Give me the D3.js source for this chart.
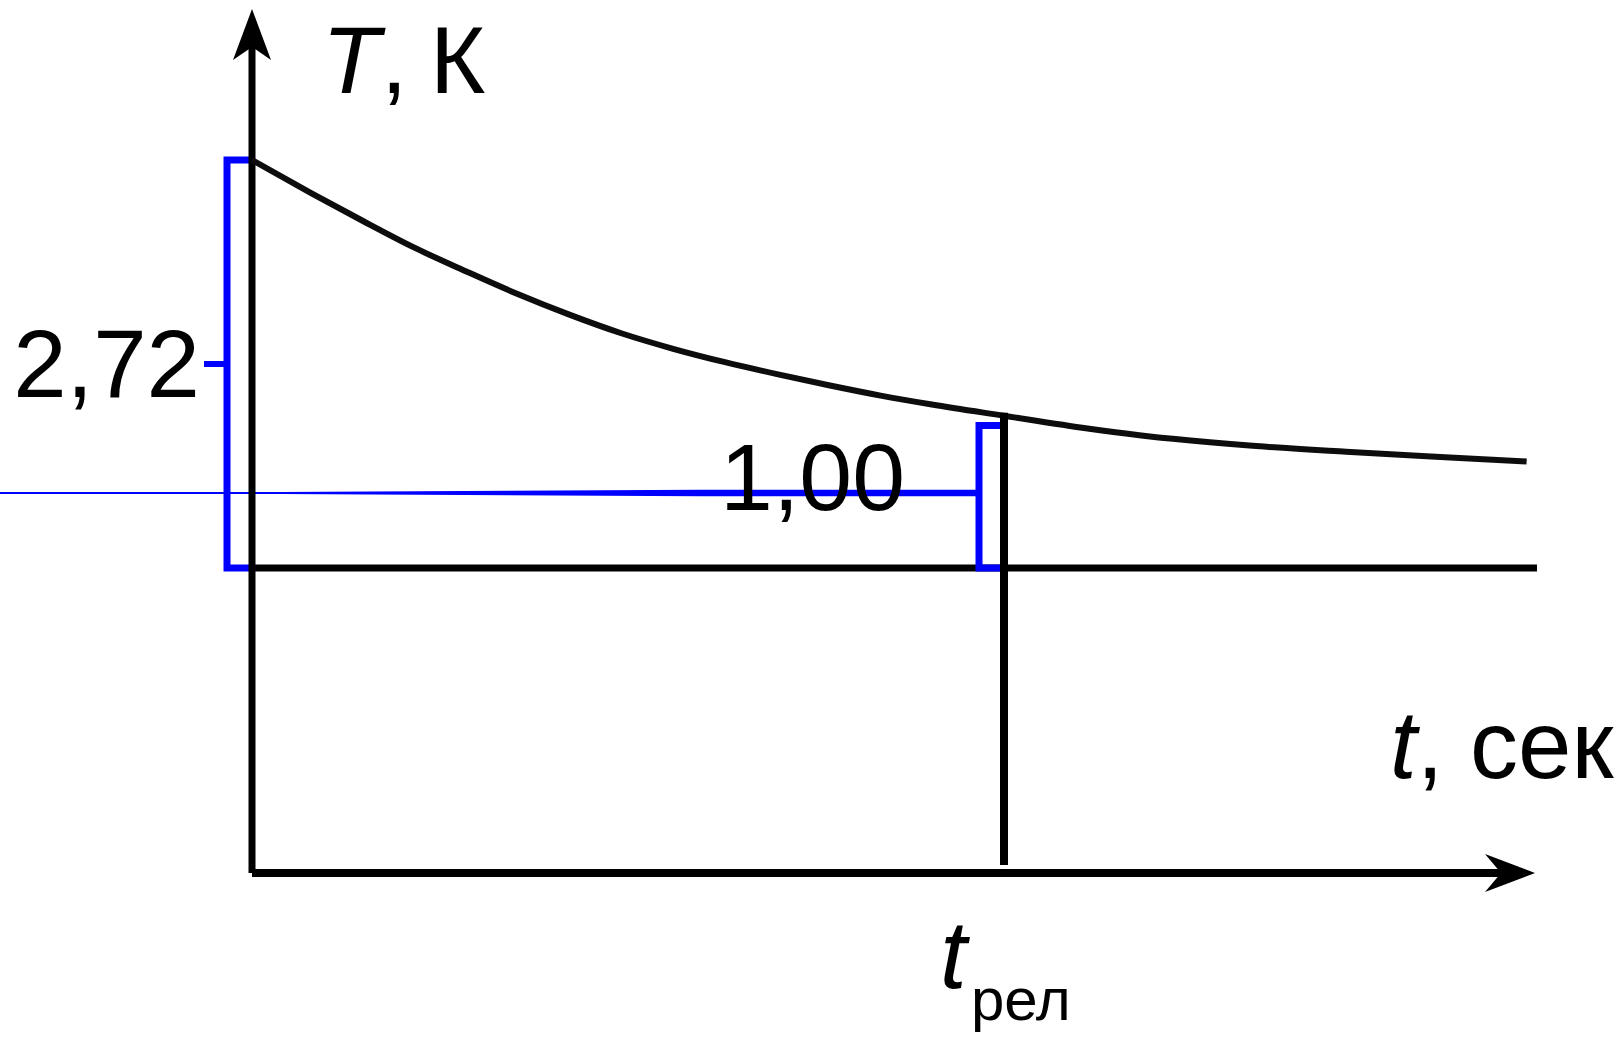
<!DOCTYPE html>
<html>
<head>
<meta charset="utf-8">
<script src="https://cdn.jsdelivr.net/npm/d3@7"></script>
<style>
  html, body { margin: 0; padding: 0; background: #fff; }
  svg { display: block; }
  text { font-family: "Liberation Sans", Arial, sans-serif; fill: #000; }
</style>
</head>
<body>
<svg id="chart" width="1624" height="1041"></svg>
<script>
// Relaxation curve: time in units of t_rel, temperature in K
const timeValues = [0, 0.078, 0.147, 0.216, 0.285, 0.354, 0.422, 0.491, 0.560, 0.629, 0.698, 0.767, 0.836, 0.904, 1.0, 1.111, 1.18, 1.318, 1.455, 1.593, 1.695];
const tempValues = [5.44, 5.003, 4.630, 4.271, 3.954, 3.650, 3.378, 3.130, 2.923, 2.744, 2.585, 2.437, 2.299, 2.18, 2.03, 1.86, 1.77, 1.639, 1.55, 1.474, 1.42];

// Marked levels and the relaxation time
const levelValues = [2.72, 1.00];
const levelLabels = ["2,72", "1,00"];
const relaxTime = 1.0;
const bracketTops = [5.44, 1.9];

const svg = d3.select("#chart");

const x = d3.scaleLinear().domain([0, 1]).range([252, 1004]);
const y = d3.scaleLinear().domain([0, 1]).range([568, 493]);

const axisY = 873;      // horizontal time axis
const xEnd = 1535;      // tip of time arrow
const yTop = 9;         // tip of temperature arrow
const blue = "#0000ff";

// Blue reference line for the 1,00 level: thin at the far left, widening toward the tick
const yl = y(levelValues[1]);
const xr = x(relaxTime) - 26;
const taper = [[0, 1], [280, 1], [700, 3.3], [xr, 3.3]];
const area = d3.area()
  .x(d => d[0])
  .y0(d => yl - d[1])
  .y1(d => yl + d[1]);
svg.append("path").attr("d", area(taper)).attr("fill", blue);

// Zero level line
svg.append("line")
  .attr("x1", x(0)).attr("x2", 1537)
  .attr("y1", y(0)).attr("y2", y(0))
  .attr("stroke", "#000").attr("stroke-width", 7);

// Blue brackets at t = 0 and t = t_rel
const bracketX = [0, relaxTime];
bracketX.forEach((t, i) => {
  const xa = x(t), xb = xa - 25;
  svg.append("path")
    .attr("d", `M${xa},${y(bracketTops[i])}H${xb}V${y(0)}H${xa}`)
    .attr("fill", "none").attr("stroke", blue).attr("stroke-width", 7)
    .attr("stroke-linejoin", "miter");
});

// Level ticks
svg.append("line")
  .attr("x1", x(0) - 48).attr("x2", x(0) - 25)
  .attr("y1", y(levelValues[0])).attr("y2", y(levelValues[0]))
  .attr("stroke", blue).attr("stroke-width", 6);
svg.append("line")
  .attr("x1", x(relaxTime) - 47).attr("x2", x(relaxTime) - 26)
  .attr("y1", yl).attr("y2", yl)
  .attr("stroke", blue).attr("stroke-width", 6);

// Temperature axis with arrow
svg.append("line")
  .attr("x1", x(0)).attr("x2", x(0))
  .attr("y1", 40).attr("y2", axisY)
  .attr("stroke", "#000").attr("stroke-width", 7);
svg.append("path")
  .attr("d", `M${x(0)},${yTop}L${x(0) + 19},60L${x(0)},47L${x(0) - 19},60Z`)
  .attr("fill", "#000");

// Time axis with arrow
svg.append("line")
  .attr("x1", x(0)).attr("x2", xEnd - 20)
  .attr("y1", axisY).attr("y2", axisY)
  .attr("stroke", "#000").attr("stroke-width", 8);
svg.append("path")
  .attr("d", `M${xEnd},${axisY}L${xEnd - 50},${axisY + 19}L${xEnd - 34},${axisY}L${xEnd - 50},${axisY - 19}Z`)
  .attr("fill", "#000");

// Relaxation curve
const pts = timeValues.map((t, i) => [x(t), y(tempValues[i])]);
svg.append("path")
  .attr("d", d3.line().curve(d3.curveMonotoneX)(pts))
  .attr("fill", "none").attr("stroke", "#0d0d0d").attr("stroke-width", 6);

// Vertical marker at t_rel
const iRel = timeValues.indexOf(relaxTime);
svg.append("line")
  .attr("x1", x(relaxTime)).attr("x2", x(relaxTime))
  .attr("y1", y(tempValues[iRel]) - 3).attr("y2", axisY - 8)
  .attr("stroke", "#000").attr("stroke-width", 8);

// Level labels
svg.append("text").attr("x", 200).attr("y", y(levelValues[0]) + 33)
  .attr("text-anchor", "end").attr("font-size", 96).text(levelLabels[0]);
svg.append("text").attr("x", 905).attr("y", yl + 17)
  .attr("text-anchor", "end").attr("font-size", 95).text(levelLabels[1]);

// Temperature axis title: T, К
svg.append("text").attr("x", 322).attr("y", 93).attr("font-size", 95)
  .attr("font-style", "italic").text("T");
svg.append("text").attr("x", 381).attr("y", 93).attr("font-size", 95).text(",");
svg.append("text").attr("x", 430).attr("y", 93).attr("font-size", 95).text("К");

// Time axis title
const xt = svg.append("text").attr("x", 1390).attr("y", 778).attr("font-size", 96);
xt.append("tspan").attr("font-style", "italic").text("t");
xt.append("tspan").text(", сек");

// t_rel label under the marker
svg.append("text").attr("x", 940).attr("y", 988).attr("font-size", 96)
  .attr("font-style", "italic").text("t");
svg.append("text").attr("x", 971).attr("y", 1020).attr("font-size", 60).text("рел");
</script>
</body>
</html>
